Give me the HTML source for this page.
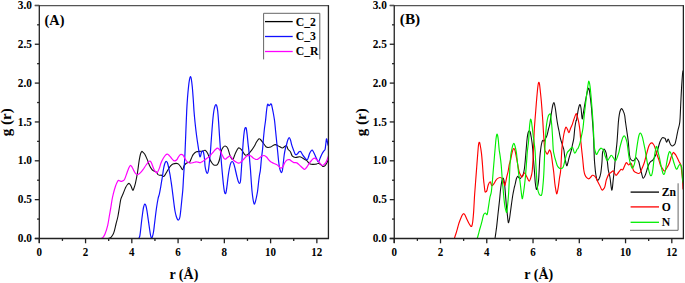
<!DOCTYPE html>
<html><head><meta charset="utf-8"><style>
html,body{margin:0;padding:0;background:#fff;}
svg{display:block;}
.t{font-family:"Liberation Serif", serif;font-weight:bold;font-size:11px;fill:#000;}
.ax{font-family:"Liberation Serif", serif;font-weight:bold;font-size:14px;fill:#000;}
.pl{font-family:"Liberation Serif", serif;font-weight:bold;font-size:14px;fill:#000;}
.lg{font-family:"Liberation Serif", serif;font-weight:bold;font-size:11.7px;fill:#000;}
</style></head><body>
<svg width="685" height="283" viewBox="0 0 685 283">
<rect width="685" height="283" fill="#fff"/>
<defs><clipPath id="ca"><rect x="39.3" y="0" width="289.125" height="238.5"/></clipPath><clipPath id="cb"><rect x="394.25" y="0" width="289.125" height="238.5"/></clipPath></defs>
<g clip-path="url(#ca)">
<path d="M108.40,238.50 C108.75,238.38 109.90,238.22 110.50,237.80 C111.10,237.38 111.43,236.90 112.00,236.00 C112.57,235.10 113.23,234.40 113.90,232.40 C114.57,230.40 115.33,226.65 116.00,224.00 C116.67,221.35 117.32,219.33 117.90,216.50 C118.48,213.67 119.00,209.95 119.50,207.00 C120.00,204.05 120.30,201.00 120.90,198.80 C121.50,196.60 122.32,195.68 123.10,193.80 C123.88,191.92 124.87,189.05 125.60,187.50 C126.33,185.95 126.90,185.18 127.50,184.50 C128.10,183.82 128.62,183.15 129.20,183.40 C129.78,183.65 130.40,184.87 131.00,186.00 C131.60,187.13 132.30,189.87 132.80,190.20 C133.30,190.53 133.57,189.13 134.00,188.00 C134.43,186.87 134.83,185.87 135.40,183.40 C135.97,180.93 136.77,177.03 137.40,173.20 C138.03,169.37 138.68,163.60 139.20,160.40 C139.72,157.20 140.07,155.50 140.50,154.00 C140.93,152.50 141.35,151.65 141.80,151.40 C142.25,151.15 142.70,152.03 143.20,152.50 C143.70,152.97 144.10,152.97 144.80,154.20 C145.50,155.43 146.62,158.02 147.40,159.90 C148.18,161.78 148.73,163.88 149.50,165.50 C150.27,167.12 151.25,168.68 152.00,169.60 C152.75,170.52 153.23,170.57 154.00,171.00 C154.77,171.43 155.95,171.62 156.60,172.20 C157.25,172.78 157.42,173.98 157.90,174.50 C158.38,175.02 158.90,175.18 159.50,175.30 C160.10,175.42 160.83,175.00 161.50,175.20 C162.17,175.40 162.92,176.53 163.50,176.50 C164.08,176.47 164.48,175.72 165.00,175.00 C165.52,174.28 165.87,173.45 166.60,172.20 C167.33,170.95 168.67,168.62 169.40,167.50 C170.13,166.38 170.40,166.08 171.00,165.50 C171.60,164.92 172.15,164.35 173.00,164.00 C173.85,163.65 175.23,163.42 176.10,163.40 C176.97,163.38 177.47,163.38 178.20,163.90 C178.93,164.42 179.77,165.53 180.50,166.50 C181.23,167.47 182.00,169.83 182.60,169.70 C183.20,169.57 183.53,166.73 184.10,165.70 C184.67,164.67 185.28,164.05 186.00,163.50 C186.72,162.95 187.78,162.63 188.40,162.40 C189.02,162.17 189.18,162.83 189.70,162.10 C190.22,161.37 190.90,159.28 191.50,158.00 C192.10,156.72 192.48,155.43 193.30,154.40 C194.12,153.37 195.20,152.32 196.40,151.80 C197.60,151.28 199.40,151.43 200.50,151.30 C201.60,151.17 202.23,151.17 203.00,151.00 C203.77,150.83 204.32,149.90 205.10,150.30 C205.88,150.70 206.85,151.78 207.70,153.40 C208.55,155.02 209.48,158.40 210.20,160.00 C210.92,161.60 211.40,162.18 212.00,163.00 C212.60,163.82 212.98,164.58 213.80,164.90 C214.62,165.22 216.12,165.30 216.90,164.90 C217.68,164.50 218.07,163.40 218.50,162.50 C218.93,161.60 219.00,161.53 219.50,159.50 C220.00,157.47 220.92,152.30 221.50,150.30 C222.08,148.30 222.40,148.22 223.00,147.50 C223.60,146.78 224.32,145.88 225.10,146.00 C225.88,146.12 226.85,146.55 227.70,148.20 C228.55,149.85 229.35,154.02 230.20,155.90 C231.05,157.78 231.95,159.92 232.80,159.50 C233.65,159.08 234.37,155.32 235.30,153.40 C236.23,151.48 237.37,148.60 238.40,148.00 C239.43,147.40 240.47,148.73 241.50,149.80 C242.53,150.87 243.88,153.50 244.60,154.40 C245.32,155.30 245.20,155.23 245.80,155.20 C246.40,155.17 247.22,155.03 248.20,154.20 C249.18,153.37 250.63,151.60 251.70,150.20 C252.77,148.80 253.80,147.17 254.60,145.80 C255.40,144.43 255.77,143.17 256.50,142.00 C257.23,140.83 258.33,139.22 259.00,138.80 C259.67,138.38 259.90,138.93 260.50,139.50 C261.10,140.07 261.85,141.20 262.60,142.20 C263.35,143.20 264.27,144.65 265.00,145.50 C265.73,146.35 266.05,147.05 267.00,147.30 C267.95,147.55 269.37,147.45 270.70,147.00 C272.03,146.55 273.55,144.68 275.00,144.60 C276.45,144.52 278.18,145.93 279.40,146.50 C280.62,147.07 281.37,148.03 282.30,148.00 C283.23,147.97 284.27,146.67 285.00,146.30 C285.73,145.93 286.20,145.30 286.70,145.80 C287.20,146.30 287.38,148.32 288.00,149.30 C288.62,150.28 289.67,150.55 290.40,151.70 C291.13,152.85 291.55,155.23 292.40,156.20 C293.25,157.17 294.27,157.42 295.50,157.50 C296.73,157.58 298.58,156.58 299.80,156.70 C301.02,156.82 301.68,157.58 302.80,158.20 C303.92,158.82 305.27,159.42 306.50,160.40 C307.73,161.38 308.58,163.48 310.20,164.10 C311.82,164.72 314.72,164.22 316.20,164.10 C317.68,163.98 318.00,163.02 319.10,163.40 C320.20,163.78 321.80,166.03 322.80,166.40 C323.80,166.77 324.35,166.35 325.10,165.60 C325.85,164.85 326.72,162.92 327.30,161.90 C327.88,160.88 328.38,159.90 328.60,159.50" fill="none" stroke="#111" stroke-width="1.1" stroke-linejoin="round" stroke-linecap="round"/>
<path d="M138.80,238.50 C138.97,238.08 139.52,237.25 139.80,236.00 C140.08,234.75 140.22,233.33 140.50,231.00 C140.78,228.67 141.17,224.83 141.50,222.00 C141.83,219.17 142.17,216.42 142.50,214.00 C142.83,211.58 143.12,209.15 143.50,207.50 C143.88,205.85 144.38,204.35 144.80,204.10 C145.22,203.85 145.63,204.85 146.00,206.00 C146.37,207.15 146.62,208.67 147.00,211.00 C147.38,213.33 147.88,217.08 148.30,220.00 C148.72,222.92 149.13,226.00 149.50,228.50 C149.87,231.00 150.18,233.42 150.50,235.00 C150.82,236.58 151.10,237.67 151.40,238.00 C151.70,238.33 151.95,238.00 152.30,237.00 C152.65,236.00 153.13,234.17 153.50,232.00 C153.87,229.83 154.18,226.58 154.50,224.00 C154.82,221.42 155.07,219.17 155.40,216.50 C155.73,213.83 156.07,210.92 156.50,208.00 C156.93,205.08 157.52,201.37 158.00,199.00 C158.48,196.63 158.95,195.80 159.40,193.80 C159.85,191.80 160.35,188.97 160.70,187.00 C161.05,185.03 161.20,183.83 161.50,182.00 C161.80,180.17 162.17,178.17 162.50,176.00 C162.83,173.83 163.17,170.92 163.50,169.00 C163.83,167.08 164.17,165.67 164.50,164.50 C164.83,163.33 165.18,162.50 165.50,162.00 C165.82,161.50 166.10,161.42 166.40,161.50 C166.70,161.58 166.98,161.75 167.30,162.50 C167.62,163.25 167.98,164.67 168.30,166.00 C168.62,167.33 168.92,169.08 169.20,170.50 C169.48,171.92 169.70,172.75 170.00,174.50 C170.30,176.25 170.67,178.75 171.00,181.00 C171.33,183.25 171.67,185.50 172.00,188.00 C172.33,190.50 172.67,193.33 173.00,196.00 C173.33,198.67 173.67,201.50 174.00,204.00 C174.33,206.50 174.62,208.92 175.00,211.00 C175.38,213.08 175.83,215.03 176.30,216.50 C176.77,217.97 177.35,219.30 177.80,219.80 C178.25,220.30 178.63,220.05 179.00,219.50 C179.37,218.95 179.67,218.42 180.00,216.50 C180.33,214.58 180.67,211.08 181.00,208.00 C181.33,204.92 181.70,201.00 182.00,198.00 C182.30,195.00 182.55,193.33 182.80,190.00 C183.05,186.67 183.25,182.17 183.50,178.00 C183.75,173.83 184.05,169.17 184.30,165.00 C184.55,160.83 184.75,158.33 185.00,153.00 C185.25,147.67 185.52,140.00 185.80,133.00 C186.08,126.00 186.42,116.83 186.70,111.00 C186.98,105.17 187.20,102.00 187.50,98.00 C187.80,94.00 188.17,90.08 188.50,87.00 C188.83,83.92 189.18,81.23 189.50,79.50 C189.82,77.77 190.10,76.68 190.40,76.60 C190.70,76.52 190.98,77.27 191.30,79.00 C191.62,80.73 191.97,83.50 192.30,87.00 C192.63,90.50 193.02,96.00 193.30,100.00 C193.58,104.00 193.72,107.33 194.00,111.00 C194.28,114.67 194.67,118.67 195.00,122.00 C195.33,125.33 195.68,128.33 196.00,131.00 C196.32,133.67 196.60,135.83 196.90,138.00 C197.20,140.17 197.50,142.00 197.80,144.00 C198.10,146.00 198.43,148.17 198.70,150.00 C198.97,151.83 199.18,153.83 199.40,155.00 C199.62,156.17 199.78,156.92 200.00,157.00 C200.22,157.08 200.45,156.33 200.70,155.50 C200.95,154.67 201.23,152.72 201.50,152.00 C201.77,151.28 202.02,151.28 202.30,151.20 C202.58,151.12 202.92,150.87 203.20,151.50 C203.48,152.13 203.77,153.58 204.00,155.00 C204.23,156.42 204.42,158.08 204.60,160.00 C204.78,161.92 204.83,164.58 205.10,166.50 C205.37,168.42 205.83,170.33 206.20,171.50 C206.57,172.67 206.95,173.58 207.30,173.50 C207.65,173.42 207.97,172.75 208.30,171.00 C208.63,169.25 208.95,166.17 209.30,163.00 C209.65,159.83 210.08,155.67 210.40,152.00 C210.72,148.33 210.93,144.67 211.20,141.00 C211.47,137.33 211.70,133.83 212.00,130.00 C212.30,126.17 212.67,121.33 213.00,118.00 C213.33,114.67 213.67,112.00 214.00,110.00 C214.33,108.00 214.68,106.88 215.00,106.00 C215.32,105.12 215.60,104.70 215.90,104.70 C216.20,104.70 216.50,104.95 216.80,106.00 C217.10,107.05 217.40,108.33 217.70,111.00 C218.00,113.67 218.30,117.83 218.60,122.00 C218.90,126.17 219.23,132.00 219.50,136.00 C219.77,140.00 219.97,142.67 220.20,146.00 C220.43,149.33 220.67,152.83 220.90,156.00 C221.13,159.17 221.33,161.83 221.60,165.00 C221.87,168.17 222.18,171.67 222.50,175.00 C222.82,178.33 223.18,182.25 223.50,185.00 C223.82,187.75 224.12,190.05 224.40,191.50 C224.68,192.95 224.92,193.62 225.20,193.70 C225.48,193.78 225.80,193.28 226.10,192.00 C226.40,190.72 226.65,188.67 227.00,186.00 C227.35,183.33 227.78,179.00 228.20,176.00 C228.62,173.00 229.07,170.17 229.50,168.00 C229.93,165.83 230.33,164.08 230.80,163.00 C231.27,161.92 231.82,161.42 232.30,161.50 C232.78,161.58 233.22,162.25 233.70,163.50 C234.18,164.75 234.68,166.92 235.20,169.00 C235.72,171.08 236.28,173.92 236.80,176.00 C237.32,178.08 237.82,180.27 238.30,181.50 C238.78,182.73 239.33,183.48 239.70,183.40 C240.07,183.32 240.25,182.90 240.50,181.00 C240.75,179.10 240.98,175.00 241.20,172.00 C241.42,169.00 241.58,166.33 241.80,163.00 C242.02,159.67 242.25,155.67 242.50,152.00 C242.75,148.33 243.02,144.33 243.30,141.00 C243.58,137.67 243.92,134.13 244.20,132.00 C244.48,129.87 244.77,128.95 245.00,128.20 C245.23,127.45 245.38,127.45 245.60,127.50 C245.82,127.55 246.03,127.25 246.30,128.50 C246.57,129.75 246.90,132.42 247.20,135.00 C247.50,137.58 247.80,141.17 248.10,144.00 C248.40,146.83 248.72,149.00 249.00,152.00 C249.28,155.00 249.55,159.00 249.80,162.00 C250.05,165.00 250.25,166.67 250.50,170.00 C250.75,173.33 251.05,178.50 251.30,182.00 C251.55,185.50 251.72,188.17 252.00,191.00 C252.28,193.83 252.65,196.85 253.00,199.00 C253.35,201.15 253.72,203.40 254.10,203.90 C254.48,204.40 254.90,203.15 255.30,202.00 C255.70,200.85 256.12,198.83 256.50,197.00 C256.88,195.17 257.25,193.50 257.60,191.00 C257.95,188.50 258.28,184.67 258.60,182.00 C258.92,179.33 259.20,177.00 259.50,175.00 C259.80,173.00 260.07,172.83 260.40,170.00 C260.73,167.17 261.13,161.50 261.50,158.00 C261.87,154.50 262.27,152.33 262.60,149.00 C262.93,145.67 263.18,141.50 263.50,138.00 C263.82,134.50 264.17,130.83 264.50,128.00 C264.83,125.17 265.17,123.83 265.50,121.00 C265.83,118.17 266.22,113.50 266.50,111.00 C266.78,108.50 267.00,107.15 267.20,106.00 C267.40,104.85 267.48,104.27 267.70,104.10 C267.92,103.93 268.25,104.73 268.50,105.00 C268.75,105.27 268.95,105.73 269.20,105.70 C269.45,105.67 269.73,105.12 270.00,104.80 C270.27,104.48 270.55,103.85 270.80,103.80 C271.05,103.75 271.25,103.80 271.50,104.50 C271.75,105.20 272.00,106.58 272.30,108.00 C272.60,109.42 272.92,110.83 273.30,113.00 C273.68,115.17 274.22,118.00 274.60,121.00 C274.98,124.00 275.25,127.50 275.60,131.00 C275.95,134.50 276.35,138.50 276.70,142.00 C277.05,145.50 277.37,148.67 277.70,152.00 C278.03,155.33 278.40,159.42 278.70,162.00 C279.00,164.58 279.20,166.00 279.50,167.50 C279.80,169.00 280.17,170.15 280.50,171.00 C280.83,171.85 281.18,172.68 281.50,172.60 C281.82,172.52 282.10,172.10 282.40,170.50 C282.70,168.90 283.00,165.58 283.30,163.00 C283.60,160.42 283.87,157.33 284.20,155.00 C284.53,152.67 284.92,150.70 285.30,149.00 C285.68,147.30 286.08,146.30 286.50,144.80 C286.92,143.30 287.35,141.18 287.80,140.00 C288.25,138.82 288.75,137.70 289.20,137.70 C289.65,137.70 290.08,138.82 290.50,140.00 C290.92,141.18 291.20,143.13 291.70,144.80 C292.20,146.47 292.88,148.38 293.50,150.00 C294.12,151.62 294.72,153.88 295.40,154.50 C296.08,155.12 297.00,154.15 297.60,153.70 C298.20,153.25 298.50,152.17 299.00,151.80 C299.50,151.43 299.97,150.93 300.60,151.50 C301.23,152.07 302.07,154.12 302.80,155.20 C303.53,156.28 304.25,157.25 305.00,158.00 C305.75,158.75 306.72,159.87 307.30,159.70 C307.88,159.53 308.13,158.00 308.50,157.00 C308.87,156.00 309.08,154.70 309.50,153.70 C309.92,152.70 310.55,151.62 311.00,151.00 C311.45,150.38 311.78,149.83 312.20,150.00 C312.62,150.17 313.08,151.25 313.50,152.00 C313.92,152.75 314.20,153.42 314.70,154.50 C315.20,155.58 315.88,157.27 316.50,158.50 C317.12,159.73 317.78,161.98 318.40,161.90 C319.02,161.82 319.58,159.37 320.20,158.00 C320.82,156.63 321.50,154.87 322.10,153.70 C322.70,152.53 323.30,151.73 323.80,151.00 C324.30,150.27 324.77,150.47 325.10,149.30 C325.43,148.13 325.57,145.73 325.80,144.00 C326.03,142.27 326.25,139.32 326.50,138.90 C326.75,138.48 327.05,140.52 327.30,141.50 C327.55,142.48 327.78,144.05 328.00,144.80 C328.22,145.55 328.50,145.80 328.60,146.00" fill="none" stroke="#1010ff" stroke-width="1.2" stroke-linejoin="round" stroke-linecap="round"/>
<path d="M101.20,238.50 C101.50,238.30 102.37,238.05 103.00,237.30 C103.63,236.55 104.22,236.00 105.00,234.00 C105.78,232.00 106.95,228.47 107.70,225.30 C108.45,222.13 108.98,217.93 109.50,215.00 C110.02,212.07 110.38,210.20 110.80,207.70 C111.22,205.20 111.58,202.32 112.00,200.00 C112.42,197.68 112.73,196.05 113.30,193.80 C113.87,191.55 114.78,188.38 115.40,186.50 C116.02,184.62 116.50,183.52 117.00,182.50 C117.50,181.48 117.90,180.65 118.40,180.40 C118.90,180.15 119.48,180.83 120.00,181.00 C120.52,181.17 121.00,181.43 121.50,181.40 C122.00,181.37 122.48,181.15 123.00,180.80 C123.52,180.45 123.90,180.73 124.60,179.30 C125.30,177.87 126.47,174.17 127.20,172.20 C127.93,170.23 128.45,168.65 129.00,167.50 C129.55,166.35 130.00,165.38 130.50,165.30 C131.00,165.22 131.45,166.12 132.00,167.00 C132.55,167.88 133.22,169.52 133.80,170.60 C134.38,171.68 134.98,172.85 135.50,173.50 C136.02,174.15 136.40,174.37 136.90,174.50 C137.40,174.63 137.98,174.52 138.50,174.30 C139.02,174.08 139.25,173.98 140.00,173.20 C140.75,172.42 141.98,170.97 143.00,169.60 C144.02,168.23 145.10,166.37 146.10,165.00 C147.10,163.63 148.32,162.03 149.00,161.40 C149.68,160.77 149.82,161.00 150.20,161.20 C150.58,161.40 150.83,161.63 151.30,162.60 C151.77,163.57 152.50,165.75 153.00,167.00 C153.50,168.25 153.80,169.23 154.30,170.10 C154.80,170.97 155.50,171.78 156.00,172.20 C156.50,172.62 156.73,173.28 157.30,172.60 C157.87,171.92 158.78,169.70 159.40,168.10 C160.02,166.50 160.35,164.63 161.00,163.00 C161.65,161.37 162.58,159.58 163.30,158.30 C164.02,157.02 164.62,155.98 165.30,155.30 C165.98,154.62 166.70,154.12 167.40,154.20 C168.10,154.28 168.82,155.12 169.50,155.80 C170.18,156.48 170.83,157.52 171.50,158.30 C172.17,159.08 172.90,160.07 173.50,160.50 C174.10,160.93 174.52,161.07 175.10,160.90 C175.68,160.73 176.48,160.10 177.00,159.50 C177.52,158.90 177.62,158.12 178.20,157.30 C178.78,156.48 179.83,155.05 180.50,154.60 C181.17,154.15 181.70,154.40 182.20,154.60 C182.70,154.80 182.85,154.82 183.50,155.80 C184.15,156.78 185.35,159.42 186.10,160.50 C186.85,161.58 187.32,161.87 188.00,162.30 C188.68,162.73 189.37,163.03 190.20,163.10 C191.03,163.17 192.05,162.92 193.00,162.70 C193.95,162.48 195.07,161.88 195.90,161.80 C196.73,161.72 197.23,162.07 198.00,162.20 C198.77,162.33 199.75,162.72 200.50,162.60 C201.25,162.48 201.82,161.93 202.50,161.50 C203.18,161.07 203.85,160.55 204.60,160.00 C205.35,159.45 206.15,158.80 207.00,158.20 C207.85,157.60 208.95,157.10 209.70,156.40 C210.45,155.70 210.82,154.85 211.50,154.00 C212.18,153.15 213.13,152.05 213.80,151.30 C214.47,150.55 214.90,150.02 215.50,149.50 C216.10,148.98 216.82,148.25 217.40,148.20 C217.98,148.15 218.48,148.68 219.00,149.20 C219.52,149.72 219.95,150.28 220.50,151.30 C221.05,152.32 221.72,154.13 222.30,155.30 C222.88,156.47 223.50,157.65 224.00,158.30 C224.50,158.95 224.77,159.28 225.30,159.20 C225.83,159.12 226.47,158.30 227.20,157.80 C227.93,157.30 229.03,156.30 229.70,156.20 C230.37,156.10 230.60,156.57 231.20,157.20 C231.80,157.83 232.50,159.20 233.30,160.00 C234.10,160.80 235.15,161.48 236.00,162.00 C236.85,162.52 237.73,162.97 238.40,163.10 C239.07,163.23 239.40,163.15 240.00,162.80 C240.60,162.45 241.27,161.72 242.00,161.00 C242.73,160.28 243.65,159.28 244.40,158.50 C245.15,157.72 245.77,156.82 246.50,156.30 C247.23,155.78 248.05,155.45 248.80,155.40 C249.55,155.35 250.22,155.52 251.00,156.00 C251.78,156.48 252.53,157.72 253.50,158.30 C254.47,158.88 255.88,159.50 256.80,159.50 C257.72,159.50 258.22,158.83 259.00,158.30 C259.78,157.77 260.65,156.77 261.50,156.30 C262.35,155.83 263.27,155.38 264.10,155.50 C264.93,155.62 265.77,156.33 266.50,157.00 C267.23,157.67 267.80,158.72 268.50,159.50 C269.20,160.28 269.87,161.08 270.70,161.70 C271.53,162.32 272.53,162.72 273.50,163.20 C274.47,163.68 275.62,164.08 276.50,164.60 C277.38,165.12 278.07,165.70 278.80,166.30 C279.53,166.90 280.20,168.17 280.90,168.20 C281.60,168.23 282.32,167.48 283.00,166.50 C283.68,165.52 284.33,163.38 285.00,162.30 C285.67,161.22 286.25,160.43 287.00,160.00 C287.75,159.57 288.70,159.48 289.50,159.70 C290.30,159.92 291.07,160.82 291.80,161.30 C292.53,161.78 293.05,162.33 293.90,162.60 C294.75,162.87 295.80,162.33 296.90,162.90 C298.00,163.47 299.27,164.93 300.50,166.00 C301.73,167.07 303.30,169.05 304.30,169.30 C305.30,169.55 305.77,168.37 306.50,167.50 C307.23,166.63 307.87,165.27 308.70,164.10 C309.53,162.93 310.63,161.48 311.50,160.50 C312.37,159.52 313.15,158.45 313.90,158.20 C314.65,157.95 315.25,158.50 316.00,159.00 C316.75,159.50 317.65,160.40 318.40,161.20 C319.15,162.00 319.82,163.08 320.50,163.80 C321.18,164.52 321.92,165.38 322.50,165.50 C323.08,165.62 323.45,164.98 324.00,164.50 C324.55,164.02 325.27,163.43 325.80,162.60 C326.33,161.77 326.73,160.68 327.20,159.50 C327.67,158.32 328.37,156.17 328.60,155.50" fill="none" stroke="#ff00ff" stroke-width="1.2" stroke-linejoin="round" stroke-linecap="round"/>
</g>
<g clip-path="url(#cb)">
<path d="M495.00,238.50 C495.13,237.58 495.50,235.18 495.80,233.00 C496.10,230.82 496.43,228.57 496.80,225.40 C497.17,222.23 497.55,218.13 498.00,214.00 C498.45,209.87 499.08,204.60 499.50,200.60 C499.92,196.60 500.20,192.77 500.50,190.00 C500.80,187.23 501.02,185.75 501.30,184.00 C501.58,182.25 501.88,180.47 502.20,179.50 C502.52,178.53 502.90,178.03 503.20,178.20 C503.50,178.37 503.75,179.37 504.00,180.50 C504.25,181.63 504.45,182.58 504.70,185.00 C504.95,187.42 505.22,191.50 505.50,195.00 C505.78,198.50 506.07,202.50 506.40,206.00 C506.73,209.50 507.18,213.25 507.50,216.00 C507.82,218.75 508.00,221.83 508.30,222.50 C508.60,223.17 508.97,221.58 509.30,220.00 C509.63,218.42 509.93,215.67 510.30,213.00 C510.67,210.33 511.07,207.08 511.50,204.00 C511.93,200.92 512.48,197.00 512.90,194.50 C513.32,192.00 513.62,190.75 514.00,189.00 C514.38,187.25 514.82,185.67 515.20,184.00 C515.58,182.33 515.92,180.27 516.30,179.00 C516.68,177.73 517.05,176.60 517.50,176.40 C517.95,176.20 518.52,177.45 519.00,177.80 C519.48,178.15 519.97,178.72 520.40,178.50 C520.83,178.28 521.20,177.03 521.60,176.50 C522.00,175.97 522.43,176.05 522.80,175.30 C523.17,174.55 523.52,173.22 523.80,172.00 C524.08,170.78 524.25,170.00 524.50,168.00 C524.75,166.00 525.00,163.33 525.30,160.00 C525.60,156.67 525.98,151.67 526.30,148.00 C526.62,144.33 526.88,140.58 527.20,138.00 C527.52,135.42 527.87,133.70 528.20,132.50 C528.53,131.30 528.87,130.88 529.20,130.80 C529.53,130.72 529.87,130.97 530.20,132.00 C530.53,133.03 530.88,135.17 531.20,137.00 C531.52,138.83 531.83,140.83 532.10,143.00 C532.37,145.17 532.57,147.17 532.80,150.00 C533.03,152.83 533.22,156.33 533.50,160.00 C533.78,163.67 534.20,168.17 534.50,172.00 C534.80,175.83 535.02,180.25 535.30,183.00 C535.58,185.75 535.95,187.45 536.20,188.50 C536.45,189.55 536.55,189.72 536.80,189.30 C537.05,188.88 537.40,187.55 537.70,186.00 C538.00,184.45 538.33,183.00 538.60,180.00 C538.87,177.00 539.10,171.67 539.30,168.00 C539.50,164.33 539.58,161.00 539.80,158.00 C540.02,155.00 540.32,152.33 540.60,150.00 C540.88,147.67 541.15,145.60 541.50,144.00 C541.85,142.40 542.27,140.88 542.70,140.40 C543.13,139.92 543.63,141.42 544.10,141.10 C544.57,140.78 545.02,139.45 545.50,138.50 C545.98,137.55 546.50,136.98 547.00,135.40 C547.50,133.82 548.03,130.88 548.50,129.00 C548.97,127.12 549.42,126.10 549.80,124.10 C550.18,122.10 550.45,119.35 550.80,117.00 C551.15,114.65 551.57,112.00 551.90,110.00 C552.23,108.00 552.47,106.25 552.80,105.00 C553.13,103.75 553.58,102.50 553.90,102.50 C554.22,102.50 554.42,103.75 554.70,105.00 C554.98,106.25 555.30,108.00 555.60,110.00 C555.90,112.00 556.17,114.65 556.50,117.00 C556.83,119.35 557.18,121.77 557.60,124.10 C558.02,126.43 558.53,128.63 559.00,131.00 C559.47,133.37 559.82,135.92 560.40,138.30 C560.98,140.68 561.92,143.35 562.50,145.30 C563.08,147.25 563.52,148.05 563.90,150.00 C564.28,151.95 564.35,154.42 564.80,157.00 C565.25,159.58 566.10,164.50 566.60,165.50 C567.10,166.50 567.42,164.17 567.80,163.00 C568.18,161.83 568.50,160.00 568.90,158.50 C569.30,157.00 569.80,155.37 570.20,154.00 C570.60,152.63 570.93,151.80 571.30,150.30 C571.67,148.80 571.98,147.00 572.40,145.00 C572.82,143.00 573.40,141.13 573.80,138.30 C574.20,135.47 574.43,130.88 574.80,128.00 C575.17,125.12 575.70,122.35 576.00,121.00 C576.30,119.65 576.27,121.57 576.60,119.90 C576.93,118.23 577.60,113.23 578.00,111.00 C578.40,108.77 578.67,107.58 579.00,106.50 C579.33,105.42 579.67,104.25 580.00,104.50 C580.33,104.75 580.63,105.63 581.00,108.00 C581.37,110.37 581.83,117.70 582.20,118.70 C582.57,119.70 582.82,116.12 583.20,114.00 C583.58,111.88 584.03,108.67 584.50,106.00 C584.97,103.33 585.50,100.50 586.00,98.00 C586.50,95.50 587.02,92.60 587.50,91.00 C587.98,89.40 588.48,87.73 588.90,88.40 C589.32,89.07 589.60,92.07 590.00,95.00 C590.40,97.93 590.98,102.93 591.30,106.00 C591.62,109.07 591.62,109.73 591.90,113.40 C592.18,117.07 592.70,123.40 593.00,128.00 C593.30,132.60 593.48,136.00 593.70,141.00 C593.92,146.00 594.10,153.83 594.30,158.00 C594.50,162.17 594.68,163.50 594.90,166.00 C595.12,168.50 595.33,171.00 595.60,173.00 C595.87,175.00 596.23,176.78 596.50,178.00 C596.77,179.22 596.78,180.13 597.20,180.30 C597.62,180.47 598.42,180.13 599.00,179.00 C599.58,177.87 600.22,176.17 600.70,173.50 C601.18,170.83 601.60,166.42 601.90,163.00 C602.20,159.58 602.27,155.08 602.50,153.00 C602.73,150.92 603.02,151.13 603.30,150.50 C603.58,149.87 603.75,148.83 604.20,149.20 C604.65,149.57 605.48,150.73 606.00,152.70 C606.52,154.67 606.92,158.12 607.30,161.00 C607.68,163.88 607.85,167.25 608.30,170.00 C608.75,172.75 609.42,174.13 610.00,177.50 C610.58,180.87 611.25,189.95 611.80,190.20 C612.35,190.45 612.88,182.37 613.30,179.00 C613.72,175.63 614.00,173.00 614.30,170.00 C614.60,167.00 614.83,163.88 615.10,161.00 C615.37,158.12 615.57,156.03 615.90,152.70 C616.23,149.37 616.68,146.12 617.10,141.00 C617.52,135.88 618.02,126.50 618.40,122.00 C618.78,117.50 619.05,116.00 619.40,114.00 C619.75,112.00 620.12,110.90 620.50,110.00 C620.88,109.10 621.28,108.52 621.70,108.60 C622.12,108.68 622.52,109.43 623.00,110.50 C623.48,111.57 624.18,113.08 624.60,115.00 C625.02,116.92 625.13,119.33 625.50,122.00 C625.87,124.67 626.35,127.83 626.80,131.00 C627.25,134.17 627.75,137.00 628.20,141.00 C628.65,145.00 629.08,151.95 629.50,155.00 C629.92,158.05 630.03,158.33 630.70,159.30 C631.37,160.27 632.67,161.05 633.50,160.80 C634.33,160.55 635.20,158.23 635.70,157.80 C636.20,157.37 636.00,157.58 636.50,158.20 C637.00,158.82 638.12,160.03 638.70,161.50 C639.28,162.97 639.53,165.08 640.00,167.00 C640.47,168.92 640.97,171.12 641.50,173.00 C642.03,174.88 642.53,178.05 643.20,178.30 C643.87,178.55 644.78,176.22 645.50,174.50 C646.22,172.78 646.92,169.75 647.50,168.00 C648.08,166.25 648.48,165.05 649.00,164.00 C649.52,162.95 649.93,162.40 650.60,161.70 C651.27,161.00 652.18,160.83 653.00,159.80 C653.82,158.77 654.73,157.13 655.50,155.50 C656.27,153.87 656.87,152.25 657.60,150.00 C658.33,147.75 659.13,144.03 659.90,142.00 C660.67,139.97 661.52,138.47 662.20,137.80 C662.88,137.13 663.50,137.87 664.00,138.00 C664.50,138.13 664.75,137.90 665.20,138.60 C665.65,139.30 666.22,142.13 666.70,142.20 C667.18,142.27 667.63,139.03 668.10,139.00 C668.57,138.97 669.12,141.13 669.50,142.00 C669.88,142.87 669.95,143.53 670.40,144.20 C670.85,144.87 671.60,145.87 672.20,146.00 C672.80,146.13 673.52,145.40 674.00,145.00 C674.48,144.60 674.73,144.60 675.10,143.60 C675.47,142.60 675.92,140.27 676.20,139.00 C676.48,137.73 676.50,137.50 676.80,136.00 C677.10,134.50 677.50,132.33 678.00,130.00 C678.50,127.67 679.35,126.17 679.80,122.00 C680.25,117.83 680.42,110.50 680.70,105.00 C680.98,99.50 681.18,94.28 681.50,89.00 C681.82,83.72 682.30,76.38 682.60,73.30 C682.90,70.22 683.18,70.97 683.30,70.50" fill="none" stroke="#111" stroke-width="1.1" stroke-linejoin="round" stroke-linecap="round"/>
<path d="M454.30,238.50 C454.58,237.67 455.47,235.20 456.00,233.50 C456.53,231.80 457.00,230.05 457.50,228.30 C458.00,226.55 458.48,224.58 459.00,223.00 C459.52,221.42 460.10,220.05 460.60,218.80 C461.10,217.55 461.52,216.35 462.00,215.50 C462.48,214.65 463.00,213.78 463.50,213.70 C464.00,213.62 464.42,214.02 465.00,215.00 C465.58,215.98 466.33,218.18 467.00,219.60 C467.67,221.02 468.33,222.37 469.00,223.50 C469.67,224.63 470.50,226.07 471.00,226.40 C471.50,226.73 471.72,226.23 472.00,225.50 C472.28,224.77 472.48,223.58 472.70,222.00 C472.92,220.42 473.13,217.85 473.30,216.00 C473.47,214.15 473.55,213.23 473.70,210.90 C473.85,208.57 474.05,204.65 474.20,202.00 C474.35,199.35 474.38,198.17 474.60,195.00 C474.82,191.83 475.15,187.63 475.50,183.00 C475.85,178.37 476.32,172.20 476.70,167.20 C477.08,162.20 477.50,156.70 477.80,153.00 C478.10,149.30 478.27,146.78 478.50,145.00 C478.73,143.22 478.95,142.47 479.20,142.30 C479.45,142.13 479.62,142.12 480.00,144.00 C480.38,145.88 481.08,150.10 481.50,153.60 C481.92,157.10 482.17,160.78 482.50,165.00 C482.83,169.22 483.20,175.40 483.50,178.90 C483.80,182.40 484.05,183.88 484.30,186.00 C484.55,188.12 484.72,190.63 485.00,191.60 C485.28,192.57 485.67,192.03 486.00,191.80 C486.33,191.57 486.62,191.38 487.00,190.20 C487.38,189.02 487.75,186.10 488.30,184.70 C488.85,183.30 489.72,181.63 490.30,181.80 C490.88,181.97 491.22,185.37 491.80,185.70 C492.38,186.03 493.18,184.58 493.80,183.80 C494.42,183.02 494.95,181.82 495.50,181.00 C496.05,180.18 496.35,179.48 497.10,178.90 C497.85,178.32 499.13,177.52 500.00,177.50 C500.87,177.48 501.52,177.52 502.30,178.80 C503.08,180.08 504.17,184.50 504.70,185.20 C505.23,185.90 505.12,184.57 505.50,183.00 C505.88,181.43 506.55,177.80 507.00,175.80 C507.45,173.80 507.82,172.90 508.20,171.00 C508.58,169.10 508.88,166.32 509.30,164.40 C509.72,162.48 510.25,161.40 510.70,159.50 C511.15,157.60 511.53,154.82 512.00,153.00 C512.47,151.18 513.00,149.02 513.50,148.60 C514.00,148.18 514.52,149.03 515.00,150.50 C515.48,151.97 515.90,154.82 516.40,157.40 C516.90,159.98 517.53,163.57 518.00,166.00 C518.47,168.43 518.80,170.55 519.20,172.00 C519.60,173.45 519.90,173.87 520.40,174.70 C520.90,175.53 521.52,177.30 522.20,177.00 C522.88,176.70 523.72,172.90 524.50,172.90 C525.28,172.90 526.12,175.63 526.90,177.00 C527.68,178.37 528.52,181.10 529.20,181.10 C529.88,181.10 530.52,178.52 531.00,177.00 C531.48,175.48 531.80,174.33 532.10,172.00 C532.40,169.67 532.57,166.67 532.80,163.00 C533.03,159.33 533.27,155.30 533.50,150.00 C533.73,144.70 533.95,136.20 534.20,131.20 C534.45,126.20 534.73,123.53 535.00,120.00 C535.27,116.47 535.55,113.17 535.80,110.00 C536.05,106.83 536.25,104.00 536.50,101.00 C536.75,98.00 537.05,94.58 537.30,92.00 C537.55,89.42 537.77,87.10 538.00,85.50 C538.23,83.90 538.45,82.65 538.70,82.40 C538.95,82.15 539.22,82.40 539.50,84.00 C539.78,85.60 540.10,89.17 540.40,92.00 C540.70,94.83 541.03,98.00 541.30,101.00 C541.57,104.00 541.75,106.67 542.00,110.00 C542.25,113.33 542.57,117.47 542.80,121.00 C543.03,124.53 543.17,127.53 543.40,131.20 C543.63,134.87 543.97,139.87 544.20,143.00 C544.43,146.13 544.48,148.42 544.80,150.00 C545.12,151.58 545.68,151.80 546.10,152.50 C546.52,153.20 546.90,154.28 547.30,154.20 C547.70,154.12 548.12,152.73 548.50,152.00 C548.88,151.27 549.27,149.88 549.60,149.80 C549.93,149.72 550.20,150.63 550.50,151.50 C550.80,152.37 551.05,152.92 551.40,155.00 C551.75,157.08 552.22,161.17 552.60,164.00 C552.98,166.83 553.32,168.67 553.70,172.00 C554.08,175.33 554.52,180.83 554.90,184.00 C555.28,187.17 555.70,189.33 556.00,191.00 C556.30,192.67 556.45,193.92 556.70,194.00 C556.95,194.08 557.22,192.77 557.50,191.50 C557.78,190.23 558.07,188.65 558.40,186.40 C558.73,184.15 559.12,180.73 559.50,178.00 C559.88,175.27 560.32,174.67 560.70,170.00 C561.08,165.33 561.45,154.83 561.80,150.00 C562.15,145.17 562.45,143.67 562.80,141.00 C563.15,138.33 563.53,135.92 563.90,134.00 C564.27,132.08 564.65,130.67 565.00,129.50 C565.35,128.33 565.58,127.00 566.00,127.00 C566.42,127.00 567.02,128.57 567.50,129.50 C567.98,130.43 568.40,132.77 568.90,132.60 C569.40,132.43 569.92,129.92 570.50,128.50 C571.08,127.08 571.82,125.68 572.40,124.10 C572.98,122.52 573.42,120.68 574.00,119.00 C574.58,117.32 575.43,114.75 575.90,114.00 C576.37,113.25 576.50,113.83 576.80,114.50 C577.10,115.17 577.37,116.63 577.70,118.00 C578.03,119.37 578.42,120.50 578.80,122.70 C579.18,124.90 579.70,128.48 580.00,131.20 C580.30,133.92 580.38,136.53 580.60,139.00 C580.82,141.47 581.07,143.72 581.30,146.00 C581.53,148.28 581.75,150.37 582.00,152.70 C582.25,155.03 582.50,157.12 582.80,160.00 C583.10,162.88 583.45,167.55 583.80,170.00 C584.15,172.45 584.42,173.43 584.90,174.70 C585.38,175.97 586.02,176.92 586.70,177.60 C587.38,178.28 588.32,178.90 589.00,178.80 C589.68,178.70 590.22,177.58 590.80,177.00 C591.38,176.42 591.82,175.40 592.50,175.30 C593.18,175.20 594.23,175.78 594.90,176.40 C595.57,177.02 596.02,178.12 596.50,179.00 C596.98,179.88 597.22,180.53 597.80,181.70 C598.38,182.87 599.32,184.63 600.00,186.00 C600.68,187.37 601.32,189.40 601.90,189.90 C602.48,190.40 603.02,189.50 603.50,189.00 C603.98,188.50 604.35,188.33 604.80,186.90 C605.25,185.47 605.82,181.88 606.20,180.40 C606.58,178.92 606.68,179.02 607.10,178.00 C607.52,176.98 608.02,175.25 608.70,174.30 C609.38,173.35 610.42,172.85 611.20,172.30 C611.98,171.75 612.62,170.50 613.40,171.00 C614.18,171.50 615.05,175.05 615.90,175.30 C616.75,175.55 617.63,173.50 618.50,172.50 C619.37,171.50 620.37,169.78 621.10,169.30 C621.83,168.82 622.05,170.70 622.90,169.60 C623.75,168.50 625.27,163.47 626.20,162.70 C627.13,161.93 627.67,164.90 628.50,165.00 C629.33,165.10 630.37,162.38 631.20,163.30 C632.03,164.22 632.70,168.97 633.50,170.50 C634.30,172.03 635.13,172.00 636.00,172.50 C636.87,173.00 637.95,173.58 638.70,173.50 C639.45,173.42 639.90,172.97 640.50,172.00 C641.10,171.03 641.63,169.37 642.30,167.70 C642.97,166.03 643.83,164.12 644.50,162.00 C645.17,159.88 645.63,157.50 646.30,155.00 C646.97,152.50 647.88,148.83 648.50,147.00 C649.12,145.17 649.45,144.68 650.00,144.00 C650.55,143.32 651.27,142.90 651.80,142.90 C652.33,142.90 652.70,143.32 653.20,144.00 C653.70,144.68 654.22,145.40 654.80,147.00 C655.38,148.60 656.05,151.55 656.70,153.60 C657.35,155.65 658.07,157.37 658.70,159.30 C659.33,161.23 659.87,163.67 660.50,165.20 C661.13,166.73 661.85,167.52 662.50,168.50 C663.15,169.48 663.73,171.10 664.40,171.10 C665.07,171.10 665.68,169.80 666.50,168.50 C667.32,167.20 668.52,165.22 669.30,163.30 C670.08,161.38 670.55,158.78 671.20,157.00 C671.85,155.22 672.65,153.18 673.20,152.60 C673.75,152.02 674.02,153.02 674.50,153.50 C674.98,153.98 675.35,154.18 676.10,155.50 C676.85,156.82 678.20,159.78 679.00,161.40 C679.80,163.02 680.45,163.43 680.90,165.20 C681.35,166.97 681.45,169.87 681.70,172.00 C681.95,174.13 682.18,175.17 682.40,178.00 C682.62,180.83 682.90,187.17 683.00,189.00" fill="none" stroke="#ff0000" stroke-width="1.15" stroke-linejoin="round" stroke-linecap="round"/>
<path d="M477.20,238.50 C477.42,237.75 478.07,235.58 478.50,234.00 C478.93,232.42 479.40,230.43 479.80,229.00 C480.20,227.57 480.48,226.90 480.90,225.40 C481.32,223.90 481.85,221.78 482.30,220.00 C482.75,218.22 483.08,215.87 483.60,214.70 C484.12,213.53 484.82,213.00 485.40,213.00 C485.98,213.00 486.67,215.20 487.10,214.70 C487.53,214.20 487.70,211.77 488.00,210.00 C488.30,208.23 488.57,206.27 488.90,204.10 C489.23,201.93 489.60,199.02 490.00,197.00 C490.40,194.98 490.88,194.83 491.30,192.00 C491.72,189.17 492.17,183.67 492.50,180.00 C492.83,176.33 493.02,173.42 493.30,170.00 C493.58,166.58 493.92,162.83 494.20,159.50 C494.48,156.17 494.70,153.42 495.00,150.00 C495.30,146.58 495.70,141.58 496.00,139.00 C496.30,136.42 496.55,135.17 496.80,134.50 C497.05,133.83 497.25,134.08 497.50,135.00 C497.75,135.92 498.02,137.50 498.30,140.00 C498.58,142.50 498.92,147.50 499.20,150.00 C499.48,152.50 499.67,152.50 500.00,155.00 C500.33,157.50 500.82,160.83 501.20,165.00 C501.58,169.17 501.97,175.83 502.30,180.00 C502.63,184.17 502.90,186.67 503.20,190.00 C503.50,193.33 503.80,197.17 504.10,200.00 C504.40,202.83 504.68,205.17 505.00,207.00 C505.32,208.83 505.70,210.17 506.00,211.00 C506.30,211.83 506.53,213.00 506.80,212.00 C507.07,211.00 507.32,207.83 507.60,205.00 C507.88,202.17 508.22,199.17 508.50,195.00 C508.78,190.83 509.05,185.00 509.30,180.00 C509.55,175.00 509.75,169.17 510.00,165.00 C510.25,160.83 510.52,157.50 510.80,155.00 C511.08,152.50 511.38,151.58 511.70,150.00 C512.02,148.42 512.35,146.62 512.70,145.50 C513.05,144.38 513.42,143.22 513.80,143.30 C514.18,143.38 514.57,144.43 515.00,146.00 C515.43,147.57 515.98,149.87 516.40,152.70 C516.82,155.53 517.12,159.45 517.50,163.00 C517.88,166.55 518.30,171.08 518.70,174.00 C519.10,176.92 519.52,177.83 519.90,180.50 C520.28,183.17 520.62,186.98 521.00,190.00 C521.38,193.02 521.82,197.93 522.20,198.60 C522.58,199.27 522.92,196.23 523.30,194.00 C523.68,191.77 524.13,188.20 524.50,185.20 C524.87,182.20 525.17,179.70 525.50,176.00 C525.83,172.30 526.20,167.00 526.50,163.00 C526.80,159.00 527.05,154.83 527.30,152.00 C527.55,149.17 527.78,147.83 528.00,146.00 C528.22,144.17 528.35,144.17 528.60,141.00 C528.85,137.83 529.23,130.33 529.50,127.00 C529.77,123.67 530.00,122.32 530.20,121.00 C530.40,119.68 530.50,119.05 530.70,119.10 C530.90,119.15 531.13,119.82 531.40,121.30 C531.67,122.78 531.95,125.17 532.30,128.00 C532.65,130.83 533.17,135.63 533.50,138.30 C533.83,140.97 534.05,142.05 534.30,144.00 C534.55,145.95 534.78,147.33 535.00,150.00 C535.22,152.67 535.40,156.67 535.60,160.00 C535.80,163.33 535.90,165.42 536.20,170.00 C536.50,174.58 536.92,183.52 537.40,187.50 C537.88,191.48 538.42,192.63 539.10,193.90 C539.78,195.17 540.90,196.08 541.50,195.10 C542.10,194.12 542.32,191.52 542.70,188.00 C543.08,184.48 543.45,180.33 543.80,174.00 C544.15,167.67 544.52,156.00 544.80,150.00 C545.08,144.00 545.25,141.83 545.50,138.00 C545.75,134.17 546.00,130.00 546.30,127.00 C546.60,124.00 546.95,121.88 547.30,120.00 C547.65,118.12 548.03,116.67 548.40,115.70 C548.77,114.73 549.15,114.45 549.50,114.20 C549.85,113.95 550.22,113.23 550.50,114.20 C550.78,115.17 550.97,117.87 551.20,120.00 C551.43,122.13 551.67,124.00 551.90,127.00 C552.13,130.00 552.37,134.17 552.60,138.00 C552.83,141.83 553.03,147.17 553.30,150.00 C553.57,152.83 553.88,153.50 554.20,155.00 C554.52,156.50 554.70,157.25 555.20,159.00 C555.70,160.75 556.62,164.08 557.20,165.50 C557.78,166.92 558.20,167.00 558.70,167.50 C559.20,168.00 559.47,168.53 560.20,168.50 C560.93,168.47 562.23,168.97 563.10,167.30 C563.97,165.63 564.72,160.93 565.40,158.50 C566.08,156.07 566.50,154.12 567.20,152.70 C567.90,151.28 568.85,150.87 569.60,150.00 C570.35,149.13 571.17,147.83 571.70,147.50 C572.23,147.17 572.28,147.03 572.80,148.00 C573.32,148.97 574.08,153.10 574.80,153.30 C575.52,153.50 576.55,150.05 577.10,149.20 C577.65,148.35 577.62,149.27 578.10,148.20 C578.58,147.13 579.43,144.83 580.00,142.80 C580.57,140.77 581.00,138.47 581.50,136.00 C582.00,133.53 582.53,131.50 583.00,128.00 C583.47,124.50 583.85,119.20 584.30,115.00 C584.75,110.80 585.25,106.63 585.70,102.80 C586.15,98.97 586.62,94.97 587.00,92.00 C587.38,89.03 587.68,86.80 588.00,85.00 C588.32,83.20 588.57,81.03 588.90,81.20 C589.23,81.37 589.65,83.58 590.00,86.00 C590.35,88.42 590.67,92.03 591.00,95.70 C591.33,99.37 591.67,103.62 592.00,108.00 C592.33,112.38 592.72,117.50 593.00,122.00 C593.28,126.50 593.48,130.87 593.70,135.00 C593.92,139.13 594.02,143.97 594.30,146.80 C594.58,149.63 595.02,150.73 595.40,152.00 C595.78,153.27 596.08,154.57 596.60,154.40 C597.12,154.23 597.93,151.90 598.50,151.00 C599.07,150.10 599.53,149.47 600.00,149.00 C600.47,148.53 600.70,147.98 601.30,148.20 C601.90,148.42 602.98,149.08 603.60,150.30 C604.22,151.52 604.42,153.80 605.00,155.50 C605.58,157.20 606.43,160.00 607.10,160.50 C607.77,161.00 608.30,159.37 609.00,158.50 C609.70,157.63 610.55,155.38 611.30,155.30 C612.05,155.22 612.78,157.05 613.50,158.00 C614.22,158.95 614.93,161.25 615.60,161.00 C616.27,160.75 616.97,157.88 617.50,156.50 C618.03,155.12 618.38,154.28 618.80,152.70 C619.22,151.12 619.55,148.87 620.00,147.00 C620.45,145.13 621.03,143.08 621.50,141.50 C621.97,139.92 622.35,138.45 622.80,137.50 C623.25,136.55 623.75,135.80 624.20,135.80 C624.65,135.80 625.03,136.38 625.50,137.50 C625.97,138.62 626.58,140.42 627.00,142.50 C627.42,144.58 627.63,147.33 628.00,150.00 C628.37,152.67 628.78,156.17 629.20,158.50 C629.62,160.83 630.03,162.42 630.50,164.00 C630.97,165.58 631.50,167.58 632.00,168.00 C632.50,168.42 633.05,167.33 633.50,166.50 C633.95,165.67 634.33,164.75 634.70,163.00 C635.07,161.25 635.40,158.17 635.70,156.00 C636.00,153.83 636.17,152.35 636.50,150.00 C636.83,147.65 637.32,144.23 637.70,141.90 C638.08,139.57 638.42,137.47 638.80,136.00 C639.18,134.53 639.60,133.43 640.00,133.10 C640.40,132.77 640.80,133.32 641.20,134.00 C641.60,134.68 642.05,136.03 642.40,137.20 C642.75,138.37 642.98,139.53 643.30,141.00 C643.62,142.47 643.98,144.42 644.30,146.00 C644.62,147.58 644.73,147.88 645.20,150.50 C645.67,153.12 646.58,158.78 647.10,161.70 C647.62,164.62 647.90,166.12 648.30,168.00 C648.70,169.88 649.13,171.75 649.50,173.00 C649.87,174.25 650.13,175.15 650.50,175.50 C650.87,175.85 651.32,176.02 651.70,175.10 C652.08,174.18 652.47,172.18 652.80,170.00 C653.13,167.82 653.40,164.50 653.70,162.00 C654.00,159.50 654.30,157.00 654.60,155.00 C654.90,153.00 655.20,151.42 655.50,150.00 C655.80,148.58 656.10,146.83 656.40,146.50 C656.70,146.17 657.00,147.02 657.30,148.00 C657.60,148.98 657.77,150.40 658.20,152.40 C658.63,154.40 659.35,157.40 659.90,160.00 C660.45,162.60 660.98,165.75 661.50,168.00 C662.02,170.25 662.52,172.50 663.00,173.50 C663.48,174.50 663.98,174.58 664.40,174.00 C664.82,173.42 665.15,171.67 665.50,170.00 C665.85,168.33 666.08,166.33 666.50,164.00 C666.92,161.67 667.53,158.03 668.00,156.00 C668.47,153.97 668.88,152.38 669.30,151.80 C669.72,151.22 670.02,151.63 670.50,152.50 C670.98,153.37 671.62,155.25 672.20,157.00 C672.78,158.75 673.42,161.17 674.00,163.00 C674.58,164.83 675.20,166.98 675.70,168.00 C676.20,169.02 676.53,169.43 677.00,169.10 C677.47,168.77 678.00,166.80 678.50,166.00 C679.00,165.20 679.55,164.30 680.00,164.30 C680.45,164.30 680.88,165.20 681.20,166.00 C681.52,166.80 681.68,166.97 681.90,169.10 C682.12,171.23 682.28,176.48 682.50,178.80 C682.72,181.12 683.08,182.30 683.20,183.00" fill="none" stroke="#00ee00" stroke-width="1.15" stroke-linejoin="round" stroke-linecap="round"/>
</g>
<line x1="34.80" y1="238.50" x2="39.30" y2="238.50" stroke="#222" stroke-width="1.3"/>
<text transform="translate(31.90,242.10) scale(1.03,1.16)" text-anchor="end" class="t">0.0</text>
<line x1="34.80" y1="199.65" x2="39.30" y2="199.65" stroke="#222" stroke-width="1.3"/>
<text transform="translate(31.90,203.25) scale(1.03,1.16)" text-anchor="end" class="t">0.5</text>
<line x1="34.80" y1="160.80" x2="39.30" y2="160.80" stroke="#222" stroke-width="1.3"/>
<text transform="translate(31.90,164.40) scale(1.03,1.16)" text-anchor="end" class="t">1.0</text>
<line x1="34.80" y1="121.95" x2="39.30" y2="121.95" stroke="#222" stroke-width="1.3"/>
<text transform="translate(31.90,125.55) scale(1.03,1.16)" text-anchor="end" class="t">1.5</text>
<line x1="34.80" y1="83.10" x2="39.30" y2="83.10" stroke="#222" stroke-width="1.3"/>
<text transform="translate(31.90,86.70) scale(1.03,1.16)" text-anchor="end" class="t">2.0</text>
<line x1="34.80" y1="44.25" x2="39.30" y2="44.25" stroke="#222" stroke-width="1.3"/>
<text transform="translate(31.90,47.85) scale(1.03,1.16)" text-anchor="end" class="t">2.5</text>
<line x1="34.80" y1="5.40" x2="39.30" y2="5.40" stroke="#222" stroke-width="1.3"/>
<text transform="translate(31.90,9.00) scale(1.03,1.16)" text-anchor="end" class="t">3.0</text>
<line x1="37.10" y1="219.07" x2="39.30" y2="219.07" stroke="#222" stroke-width="1.3"/>
<line x1="37.10" y1="180.22" x2="39.30" y2="180.22" stroke="#222" stroke-width="1.3"/>
<line x1="37.10" y1="141.38" x2="39.30" y2="141.38" stroke="#222" stroke-width="1.3"/>
<line x1="37.10" y1="102.53" x2="39.30" y2="102.53" stroke="#222" stroke-width="1.3"/>
<line x1="37.10" y1="63.67" x2="39.30" y2="63.67" stroke="#222" stroke-width="1.3"/>
<line x1="37.10" y1="24.82" x2="39.30" y2="24.82" stroke="#222" stroke-width="1.3"/>
<line x1="39.30" y1="238.50" x2="39.30" y2="243.30" stroke="#222" stroke-width="1.3"/>
<text transform="translate(39.30,255.6) scale(1.0,1.16)" text-anchor="middle" class="t">0</text>
<line x1="62.43" y1="238.50" x2="62.43" y2="240.90" stroke="#222" stroke-width="1.3"/>
<line x1="85.56" y1="238.50" x2="85.56" y2="243.30" stroke="#222" stroke-width="1.3"/>
<text transform="translate(85.56,255.6) scale(1.0,1.16)" text-anchor="middle" class="t">2</text>
<line x1="108.69" y1="238.50" x2="108.69" y2="240.90" stroke="#222" stroke-width="1.3"/>
<line x1="131.82" y1="238.50" x2="131.82" y2="243.30" stroke="#222" stroke-width="1.3"/>
<text transform="translate(131.82,255.6) scale(1.0,1.16)" text-anchor="middle" class="t">4</text>
<line x1="154.95" y1="238.50" x2="154.95" y2="240.90" stroke="#222" stroke-width="1.3"/>
<line x1="178.08" y1="238.50" x2="178.08" y2="243.30" stroke="#222" stroke-width="1.3"/>
<text transform="translate(178.08,255.6) scale(1.0,1.16)" text-anchor="middle" class="t">6</text>
<line x1="201.21" y1="238.50" x2="201.21" y2="240.90" stroke="#222" stroke-width="1.3"/>
<line x1="224.34" y1="238.50" x2="224.34" y2="243.30" stroke="#222" stroke-width="1.3"/>
<text transform="translate(224.34,255.6) scale(1.0,1.16)" text-anchor="middle" class="t">8</text>
<line x1="247.47" y1="238.50" x2="247.47" y2="240.90" stroke="#222" stroke-width="1.3"/>
<line x1="270.60" y1="238.50" x2="270.60" y2="243.30" stroke="#222" stroke-width="1.3"/>
<text transform="translate(270.60,255.6) scale(1.0,1.16)" text-anchor="middle" class="t">10</text>
<line x1="293.73" y1="238.50" x2="293.73" y2="240.90" stroke="#222" stroke-width="1.3"/>
<line x1="316.86" y1="238.50" x2="316.86" y2="243.30" stroke="#222" stroke-width="1.3"/>
<text transform="translate(316.86,255.6) scale(1.0,1.16)" text-anchor="middle" class="t">12</text>
<line x1="34.80" y1="5.60" x2="329.03" y2="5.60" stroke="#555" stroke-width="1.1"/>
<line x1="328.43" y1="5.40" x2="328.43" y2="238.50" stroke="#222" stroke-width="1.3"/>
<line x1="39.30" y1="5.40" x2="39.30" y2="243.00" stroke="#222" stroke-width="1.3"/>
<line x1="34.80" y1="238.50" x2="329.03" y2="238.50" stroke="#222" stroke-width="1.4"/>
<text x="183.86" y="279.3" text-anchor="middle" class="ax">r (&#197;)</text>
<text transform="translate(11.30,122.3) rotate(-90) scale(1.07,1)" text-anchor="middle" class="ax">g (r)</text>
<text transform="translate(44.60,25.2) scale(1.02,1.06)" class="pl">(A)</text>
<line x1="389.75" y1="238.50" x2="394.25" y2="238.50" stroke="#222" stroke-width="1.3"/>
<text transform="translate(386.85,242.10) scale(1.03,1.16)" text-anchor="end" class="t">0.0</text>
<line x1="389.75" y1="199.65" x2="394.25" y2="199.65" stroke="#222" stroke-width="1.3"/>
<text transform="translate(386.85,203.25) scale(1.03,1.16)" text-anchor="end" class="t">0.5</text>
<line x1="389.75" y1="160.80" x2="394.25" y2="160.80" stroke="#222" stroke-width="1.3"/>
<text transform="translate(386.85,164.40) scale(1.03,1.16)" text-anchor="end" class="t">1.0</text>
<line x1="389.75" y1="121.95" x2="394.25" y2="121.95" stroke="#222" stroke-width="1.3"/>
<text transform="translate(386.85,125.55) scale(1.03,1.16)" text-anchor="end" class="t">1.5</text>
<line x1="389.75" y1="83.10" x2="394.25" y2="83.10" stroke="#222" stroke-width="1.3"/>
<text transform="translate(386.85,86.70) scale(1.03,1.16)" text-anchor="end" class="t">2.0</text>
<line x1="389.75" y1="44.25" x2="394.25" y2="44.25" stroke="#222" stroke-width="1.3"/>
<text transform="translate(386.85,47.85) scale(1.03,1.16)" text-anchor="end" class="t">2.5</text>
<line x1="389.75" y1="5.40" x2="394.25" y2="5.40" stroke="#222" stroke-width="1.3"/>
<text transform="translate(386.85,9.00) scale(1.03,1.16)" text-anchor="end" class="t">3.0</text>
<line x1="392.05" y1="219.07" x2="394.25" y2="219.07" stroke="#222" stroke-width="1.3"/>
<line x1="392.05" y1="180.22" x2="394.25" y2="180.22" stroke="#222" stroke-width="1.3"/>
<line x1="392.05" y1="141.38" x2="394.25" y2="141.38" stroke="#222" stroke-width="1.3"/>
<line x1="392.05" y1="102.53" x2="394.25" y2="102.53" stroke="#222" stroke-width="1.3"/>
<line x1="392.05" y1="63.67" x2="394.25" y2="63.67" stroke="#222" stroke-width="1.3"/>
<line x1="392.05" y1="24.82" x2="394.25" y2="24.82" stroke="#222" stroke-width="1.3"/>
<line x1="394.25" y1="238.50" x2="394.25" y2="243.30" stroke="#222" stroke-width="1.3"/>
<text transform="translate(394.25,255.6) scale(1.0,1.16)" text-anchor="middle" class="t">0</text>
<line x1="417.38" y1="238.50" x2="417.38" y2="240.90" stroke="#222" stroke-width="1.3"/>
<line x1="440.51" y1="238.50" x2="440.51" y2="243.30" stroke="#222" stroke-width="1.3"/>
<text transform="translate(440.51,255.6) scale(1.0,1.16)" text-anchor="middle" class="t">2</text>
<line x1="463.64" y1="238.50" x2="463.64" y2="240.90" stroke="#222" stroke-width="1.3"/>
<line x1="486.77" y1="238.50" x2="486.77" y2="243.30" stroke="#222" stroke-width="1.3"/>
<text transform="translate(486.77,255.6) scale(1.0,1.16)" text-anchor="middle" class="t">4</text>
<line x1="509.90" y1="238.50" x2="509.90" y2="240.90" stroke="#222" stroke-width="1.3"/>
<line x1="533.03" y1="238.50" x2="533.03" y2="243.30" stroke="#222" stroke-width="1.3"/>
<text transform="translate(533.03,255.6) scale(1.0,1.16)" text-anchor="middle" class="t">6</text>
<line x1="556.16" y1="238.50" x2="556.16" y2="240.90" stroke="#222" stroke-width="1.3"/>
<line x1="579.29" y1="238.50" x2="579.29" y2="243.30" stroke="#222" stroke-width="1.3"/>
<text transform="translate(579.29,255.6) scale(1.0,1.16)" text-anchor="middle" class="t">8</text>
<line x1="602.42" y1="238.50" x2="602.42" y2="240.90" stroke="#222" stroke-width="1.3"/>
<line x1="625.55" y1="238.50" x2="625.55" y2="243.30" stroke="#222" stroke-width="1.3"/>
<text transform="translate(625.55,255.6) scale(1.0,1.16)" text-anchor="middle" class="t">10</text>
<line x1="648.68" y1="238.50" x2="648.68" y2="240.90" stroke="#222" stroke-width="1.3"/>
<line x1="671.81" y1="238.50" x2="671.81" y2="243.30" stroke="#222" stroke-width="1.3"/>
<text transform="translate(671.81,255.6) scale(1.0,1.16)" text-anchor="middle" class="t">12</text>
<line x1="389.75" y1="5.60" x2="683.98" y2="5.60" stroke="#555" stroke-width="1.1"/>
<line x1="683.38" y1="5.40" x2="683.38" y2="238.50" stroke="#222" stroke-width="1.3"/>
<line x1="394.25" y1="5.40" x2="394.25" y2="243.00" stroke="#222" stroke-width="1.3"/>
<line x1="389.75" y1="238.50" x2="683.98" y2="238.50" stroke="#222" stroke-width="1.4"/>
<text x="538.81" y="279.3" text-anchor="middle" class="ax">r (&#197;)</text>
<text transform="translate(366.25,122.3) rotate(-90) scale(1.07,1)" text-anchor="middle" class="ax">g (r)</text>
<text transform="translate(399.85,24.1) scale(1.09,1.06)" class="pl">(B)</text>
<path d="M263.6,59.4 V13.3 H319.8 V59.4" fill="none" stroke="#666" stroke-width="1"/>
<line x1="265" y1="21.6" x2="292.7" y2="21.6" stroke="#000000" stroke-width="1.3"/>
<text x="295.8" y="25.5" class="lg">C_2</text>
<line x1="265" y1="36.5" x2="292.7" y2="36.5" stroke="#1010ff" stroke-width="1.3"/>
<text x="295.8" y="40.4" class="lg">C_3</text>
<line x1="265" y1="51.5" x2="292.7" y2="51.5" stroke="#ff00ff" stroke-width="1.3"/>
<text x="295.8" y="55.4" class="lg">C_R</text>
<path d="M630,230.3 H678.1 V183.3" fill="none" stroke="#666" stroke-width="1"/>
<line x1="630.6" y1="192.1" x2="659" y2="192.1" stroke="#000000" stroke-width="1.3"/>
<text x="661.8" y="196.0" class="lg">Zn</text>
<line x1="630.6" y1="206.9" x2="659" y2="206.9" stroke="#ff0000" stroke-width="1.3"/>
<text x="661.8" y="210.8" class="lg">O</text>
<line x1="630.6" y1="222.3" x2="659" y2="222.3" stroke="#00ee00" stroke-width="1.3"/>
<text x="661.8" y="226.2" class="lg">N</text>
</svg></body></html>
